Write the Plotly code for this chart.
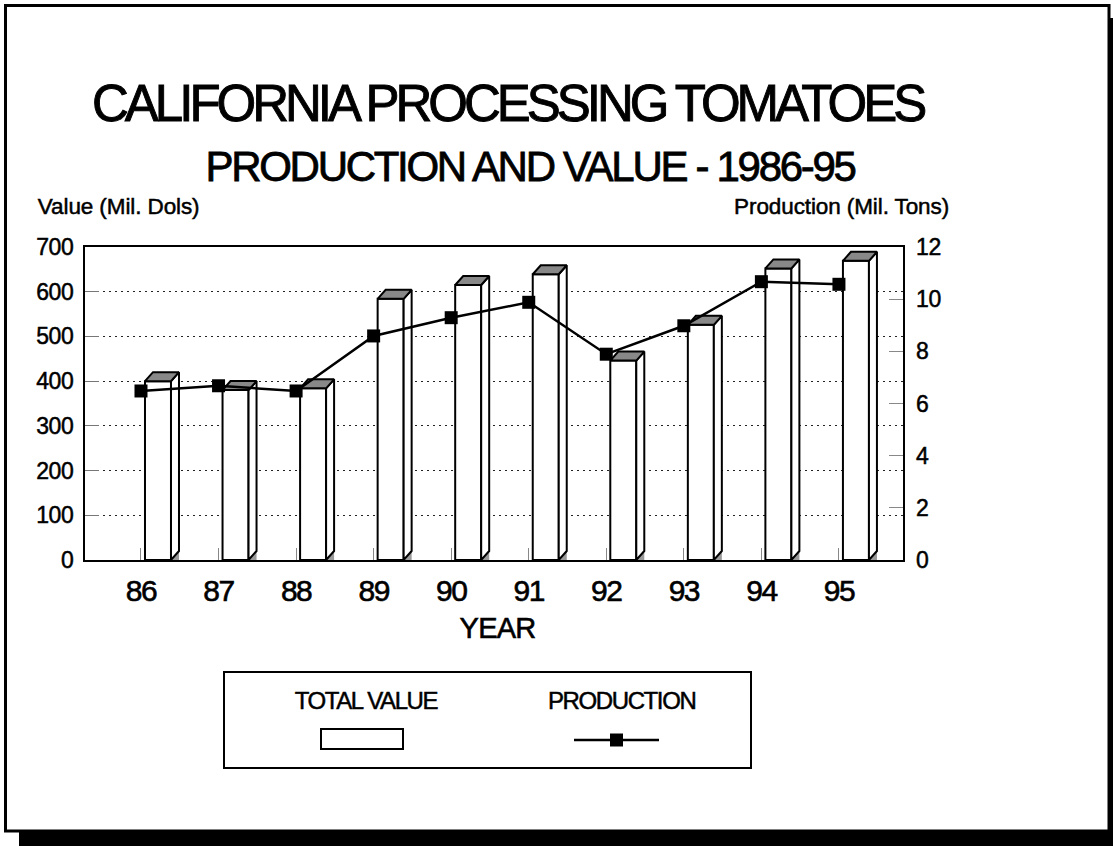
import plotly.graph_objects as go

# ---------------- data ----------------
years = ["86", "87", "88", "89", "90", "91", "92", "93", "94", "95"]
total_value = [400, 380, 384, 584, 615, 639, 446, 526, 652, 669]          # Mil. Dols
production = [6.48, 6.68, 6.48, 8.59, 9.29, 9.88, 7.89, 8.98, 10.67, 10.57]  # Mil. Tons
value_ticks = [0, 100, 200, 300, 400, 500, 600, 700]
prod_ticks = [0, 2, 4, 6, 8, 10, 12]

# ---------------- geometry ----------------
W, H = 1113, 846
PL, PR, PT, PB = 85, 903, 247, 560
FONT = "Liberation Sans, Arial, sans-serif"

def px(x):
    return (x - PL) / (PR - PL)

def py(y):
    return (PB - y) / (PB - PT)

xs = list(range(len(years)))
X0, X1 = -0.722, 9.826
unit_px = (PR - PL) / (X1 - X0)
yunit_px = (PB - PT) / 700.0
OFF = 4 / unit_px          # front face offset from tick
BW = 26 / unit_px          # front face width
DX = 8 / unit_px           # depth, x
DY = 9 / yunit_px          # depth, y (value units)

fig = go.Figure()

# front faces
fig.add_trace(go.Bar(
    x=xs, y=total_value, offset=OFF, width=BW,
    marker=dict(color="white", line=dict(color="black", width=2)),
    hoverinfo="skip", showlegend=False,
))

# floor shadow triangles, side faces and top faces built from values
sx, sy, tx, ty, fx, fy = [], [], [], [], [], []
for i, v in zip(xs, total_value):
    l = i + OFF
    r = i + OFF + BW
    fx += [r, r + DX, r + DX, r, None]
    fy += [0, 0, DY, 0, None]
    sx += [r, r + DX, r + DX, r, r, None]
    sy += [0, DY, v + DY, v, 0, None]
    tx += [l, l + DX, r + DX, r, l, None]
    ty += [v, v + DY, v + DY, v, v, None]

fig.add_trace(go.Scatter(x=fx, y=fy, mode="lines", fill="toself",
                         fillcolor="#9a9a9a", line=dict(width=0, color="#9a9a9a"),
                         hoverinfo="skip", showlegend=False))
fig.add_trace(go.Scatter(x=sx, y=sy, mode="lines", fill="toself",
                         fillcolor="white", line=dict(color="black", width=2),
                         hoverinfo="skip", showlegend=False))
fig.add_trace(go.Scatter(x=tx, y=ty, mode="lines", fill="toself",
                         fillcolor="#888888", line=dict(color="black", width=2),
                         hoverinfo="skip", showlegend=False))

# production line
fig.add_trace(go.Scatter(
    x=xs, y=production, yaxis="y2", mode="lines+markers",
    line=dict(color="black", width=2.5),
    marker=dict(symbol="square", size=13, color="black"),
    hoverinfo="skip", showlegend=False,
))

fig.update_layout(
    width=W, height=H,
    margin=dict(l=PL, r=W - PR, t=PT, b=H - PB, pad=0),
    paper_bgcolor="white", plot_bgcolor="white",
    font=dict(family=FONT, color="black"),
    showlegend=False,
    xaxis=dict(
        range=[X0, X1], tickmode="array", tickvals=xs, ticktext=years,
        ticks="inside", ticklen=12, tickcolor="#888", tickwidth=1,
        tickfont=dict(size=30, family=FONT, color="black"),
        ticklabelstandoff=3,
        showgrid=False, zeroline=False,
        showline=True, linecolor="black", linewidth=2, mirror=True,
    ),
    yaxis=dict(
        range=[0, 700], tickmode="array", tickvals=value_ticks,
        ticks="inside", ticklen=14, tickcolor="#777", tickwidth=1,
        tickfont=dict(size=23, family=FONT, color="black"),
        ticklabelstandoff=5,
        showgrid=True, gridcolor="#222", gridwidth=1, griddash="2px,4px",
        zeroline=False,
        showline=True, linecolor="black", linewidth=2, mirror=True,
    ),
    yaxis2=dict(
        range=[0, 12], tickmode="array", tickvals=prod_ticks,
        overlaying="y", side="right",
        ticks="inside", ticklen=14, tickcolor="#888", tickwidth=1,
        tickfont=dict(size=23, family=FONT, color="black"),
        ticklabelstandoff=12,
        showgrid=False, zeroline=False, showline=False,
    ),
)

shapes = []
# outer frame and drop shadow
shapes.append(dict(type="rect", xref="paper", yref="paper",
                   x0=px(19), x1=px(1113), y0=py(831), y1=py(846),
                   fillcolor="black", line=dict(width=0), layer="above"))
shapes.append(dict(type="rect", xref="paper", yref="paper",
                   x0=px(1109), x1=px(1113), y0=py(18), y1=py(846),
                   fillcolor="black", line=dict(width=0), layer="above"))
shapes.append(dict(type="rect", xref="paper", yref="paper",
                   x0=px(5.5), x1=px(1109), y0=py(5.5), y1=py(831),
                   line=dict(color="black", width=3), layer="above"))
# legend box
shapes.append(dict(type="rect", xref="paper", yref="paper",
                   x0=px(224), x1=px(751), y0=py(672), y1=py(768),
                   line=dict(color="black", width=2), layer="above"))
shapes.append(dict(type="rect", xref="paper", yref="paper",
                   x0=px(321), x1=px(403), y0=py(729), y1=py(749),
                   fillcolor="white", line=dict(color="black", width=2), layer="above"))
shapes.append(dict(type="line", xref="paper", yref="paper",
                   x0=px(574), x1=px(659), y0=py(740), y1=py(740),
                   line=dict(color="black", width=2.5), layer="above"))
shapes.append(dict(type="rect", xref="paper", yref="paper",
                   x0=px(610), x1=px(623), y0=py(733.5), y1=py(746.5),
                   fillcolor="black", line=dict(width=0), layer="above"))
fig.update_layout(shapes=shapes)

ann = []
def add_text(text, x, y, size, xanchor="center"):
    ann.append(dict(text=text, x=px(x), y=py(y), xref="paper", yref="paper",
                    xanchor=xanchor, yanchor="middle", showarrow=False,
                    font=dict(size=size, family=FONT, color="black")))

add_text("CALIFORNIA PROCESSING TOMATOES", 507, 103, 51)      # 0
add_text("PRODUCTION AND VALUE - 1986-95", 530, 166, 42)      # 1
add_text("Value (Mil. Dols)", 35, 207, 22.5, "left")          # 2
add_text("Production (Mil. Tons)", 952, 207, 22.5, "right")   # 3
add_text("YEAR", 497, 628, 29)                                # 4
add_text("TOTAL VALUE", 366, 700, 24)                         # 5
add_text("PRODUCTION", 621, 700, 24)                          # 6
fig.update_layout(annotations=ann)

post = """
(function(){
  document.documentElement.style.margin='0';
  document.body.style.margin='0';
  document.body.style.overflow='hidden';
  var gd = document.querySelector('.js-plotly-plot');
  if (!gd) return;
  var ls = {'0': -4.0, '1': -2.3, '2': -0.1, '3': -0.1, '4': -0.8, '5': -1.4, '6': -1.4};
  var sw = {'0': 0.9, '1': 0.8, '2': 0.5, '3': 0.5, '4': 0.6, '5': 0.5, '6': 0.5};
  gd.querySelectorAll('g.annotation').forEach(function(g){
    var i = g.getAttribute('data-index');
    g.querySelectorAll('text').forEach(function(t){
      if (ls[i] !== undefined) t.style.letterSpacing = ls[i] + 'px';
      if (sw[i] !== undefined) { t.style.stroke = 'black'; t.style.strokeWidth = sw[i] + 'px'; }
    });
  });
  gd.querySelectorAll('.xtick text').forEach(function(t){
    t.style.letterSpacing = '-1.5px'; t.style.stroke = 'black'; t.style.strokeWidth = '0.6px';
  });
  gd.querySelectorAll('.ytick text, .y2tick text').forEach(function(t){
    t.style.letterSpacing = '-0.4px'; t.style.stroke = 'black'; t.style.strokeWidth = '0.5px';
  });
})();
"""

fig.write_html("out.html", post_script=post, config={"displayModeBar": False})
